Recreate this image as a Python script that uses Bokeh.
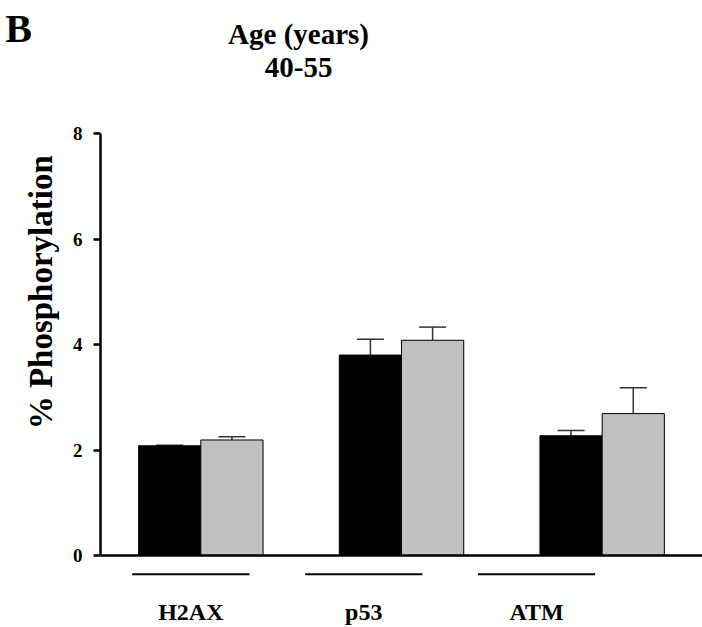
import math
from bokeh.plotting import figure
from bokeh.models import (ColumnDataSource, FixedTicker, Whisker, TeeHead,
                          Label, LabelSet)
from bokeh.embed import file_html
from bokeh.resources import INLINE

# Data: % phosphorylation, two groups per marker, mean and upper SEM
markers = ["H2AX", "p53", "ATM"]
group_a_mean = [2.08, 3.80, 2.27]   # black bars
group_a_err = [0.01, 0.30, 0.10]
group_b_mean = [2.19, 4.08, 2.69]   # grey bars
group_b_err = [0.06, 0.25, 0.49]
y_ticks = [0, 2, 4, 6, 8]

FONT = "Liberation Serif"
W, H = 702, 627
PX_X = 602 / 3.0            # pixels per category
PX_Y = (555 - 133) / 8.0    # pixels per percent
BAR_W = 0.31

X0 = -0.5 - 100 / PX_X      # room for the y axis inside the frame
Y0 = -(H - 555) / PX_Y
Y1 = 8 + 133 / PX_Y

idx = list(range(len(markers)))
xa = [i - BAR_W / 2 for i in idx]
xb = [i + BAR_W / 2 for i in idx]

src_a = ColumnDataSource(dict(x=xa, top=group_a_mean,
                              up=[m + e for m, e in zip(group_a_mean, group_a_err)]))
src_b = ColumnDataSource(dict(x=xb, top=group_b_mean,
                              up=[m + e for m, e in zip(group_b_mean, group_b_err)]))

p = figure(width=W, height=H, output_backend="svg", toolbar_location=None,
           x_range=(X0, 2.5), y_range=(Y0, Y1),
           min_border_left=0, min_border_right=0,
           min_border_top=0, min_border_bottom=0)
p.outline_line_color = None
p.grid.visible = False
p.background_fill_color = "white"

# y axis, pinned at the left end of the category scale
ya = p.yaxis[0]
ya.fixed_location = -0.5
ya.ticker = FixedTicker(ticks=y_ticks)
ya.bounds = (0, 8)
ya.axis_line_width = 2.5
ya.major_tick_line_width = 2.5
ya.major_tick_out = 7
ya.major_tick_in = 0
ya.minor_tick_out = 0
ya.minor_tick_in = 0
ya.major_label_standoff = 11
ya.major_label_text_font = FONT
ya.major_label_text_font_style = "bold"
ya.major_label_text_font_size = "19px"
ya.major_label_text_color = "black"

# x axis used as the zero baseline only
xax = p.xaxis[0]
xax.fixed_location = 0
xax.ticker = FixedTicker(ticks=[])
xax.bounds = (-0.5, 2.5)
xax.axis_line_width = 2.5
xax.major_tick_out = 0
xax.major_tick_in = 0
xax.minor_tick_out = 0
xax.minor_tick_in = 0
xax.major_label_text_font_size = "0px"

# bars
p.vbar(x="x", top="top", bottom=0, width=BAR_W, source=src_a,
       fill_color="black", line_color="black", line_width=1)
p.vbar(x="x", top="top", bottom=0, width=BAR_W, source=src_b,
       fill_color="#c0c0c0", line_color="black", line_width=1)

# upper error bars
for src in (src_a, src_b):
    p.add_layout(Whisker(source=src, base="x", lower="top", upper="up",
                         line_color="#333333", line_width=1.5, lower_head=None,
                         upper_head=TeeHead(size=27, line_color="#333333",
                                            line_width=1.5)))

# marker group underlines and names
label_x = [-0.05, 0.812, 1.673]
half = 0.292
p.segment(x0=[x - half for x in label_x], x1=[x + half for x in label_x],
          y0=-0.354, y1=-0.354, line_color="black", line_width=2)
name_src = ColumnDataSource(dict(x=label_x, y=[-1.075] * len(markers),
                                 name=markers))
p.add_layout(LabelSet(x="x", y="y", text="name", source=name_src,
                      text_font=FONT, text_font_style="bold",
                      text_font_size="24px", text_align="center",
                      text_baseline="middle", text_color="black"))

# y axis title
p.add_layout(Label(x=-0.799, y=4.99, text="% Phosphorylation", angle=math.pi / 2,
                   text_font=FONT, text_font_style="bold",
                   text_font_size="33px", text_align="center",
                   text_baseline="middle", text_color="black"))

# heading
for txt, yy in (("Age (years)", 9.88), ("40-55", 9.25)):
    p.add_layout(Label(x=0.487, y=yy, text=txt, text_font=FONT,
                       text_font_style="bold", text_font_size="29px",
                       text_align="center", text_baseline="middle",
                       text_color="black"))

# panel letter
p.add_layout(Label(x=-0.908, y=10.0, text="B", text_font=FONT,
                   text_font_style="bold", text_font_size="40px",
                   text_align="center", text_baseline="middle",
                   text_color="black"))

open("out.html", "w").write(file_html(p, INLINE))
